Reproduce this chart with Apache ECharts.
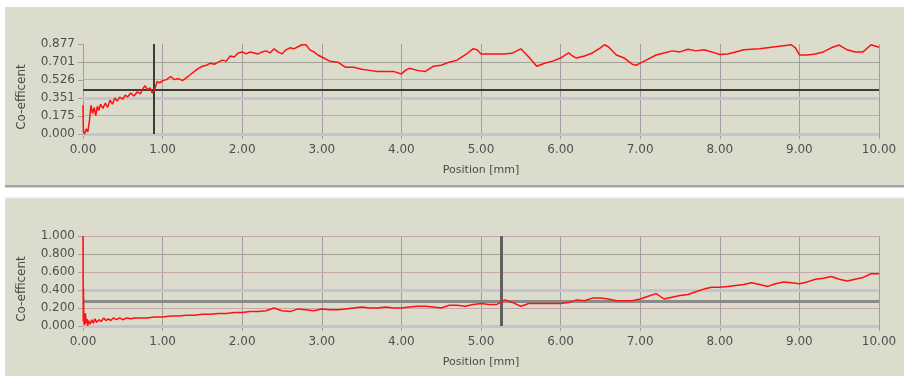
<!DOCTYPE html>
<html>
<head>
<meta charset="utf-8">
<script src="https://cdn.jsdelivr.net/npm/echarts@6/dist/echarts.min.js"></script>
<style>html,body{margin:0;padding:0;background:#fff;}#c{width:904px;height:376px;}</style>
</head>
<body>
<div id="c"></div>
<script>
// ---- data ----
const xTickLabels = ['0.00','1.00','2.00','3.00','4.00','5.00','6.00','7.00','8.00','9.00','10.00'];
const yTicksTop = [0, 0.1754, 0.3508, 0.5262, 0.7016, 0.877];
const yTickLabelsTop = ['0.000','0.175','0.351','0.526','0.701','0.877'];
const yTicksBottom = [0, 0.2, 0.4, 0.6, 0.8, 1.0];
const yTickLabelsBottom = ['0.000','0.200','0.400','0.600','0.800','1.000'];

const posTop = [0.00,0.005,0.02,0.04,0.06,0.08,0.10,0.12,0.14,0.16,0.18,0.20,0.22,0.25,0.28,0.31,0.34,0.37,0.40,0.43,0.46,0.50,0.53,0.56,0.60,0.64,0.68,0.72,0.75,0.78,0.81,0.84,0.87,0.90,0.93,0.97,
1.00,1.05,1.10,1.15,1.20,1.25,1.30,1.35,1.40,1.45,1.50,1.55,1.60,1.65,1.70,1.75,1.80,1.85,1.90,1.95,
2.00,2.05,2.10,2.15,2.20,2.25,2.30,2.35,2.40,2.45,2.50,2.55,2.60,2.65,2.70,2.75,2.80,2.85,2.90,2.95,
3.00,3.10,3.20,3.30,3.40,3.50,3.60,3.70,3.80,3.90,4.00,4.05,4.10,4.20,4.30,4.40,4.50,4.60,4.70,4.80,4.90,4.95,
5.00,5.10,5.20,5.30,5.40,5.50,5.60,5.70,5.80,5.90,6.00,6.10,6.15,6.20,6.30,6.40,6.50,6.55,6.60,6.70,6.80,6.90,6.95,
7.00,7.10,7.20,7.30,7.40,7.50,7.60,7.70,7.80,7.90,8.00,8.10,8.20,8.30,8.40,8.50,8.60,8.70,8.80,8.90,8.95,
9.00,9.10,9.20,9.30,9.40,9.50,9.60,9.70,9.80,9.90,10.00];
const cofTop = [0.28,0.02,0.00,0.05,0.02,0.12,0.28,0.20,0.26,0.18,0.27,0.23,0.29,0.25,0.30,0.26,0.33,0.29,0.35,0.32,0.36,0.34,0.38,0.36,0.40,0.37,0.41,0.39,0.44,0.47,0.43,0.45,0.40,0.43,0.51,0.50,
0.52,0.53,0.56,0.53,0.54,0.52,0.55,0.58,0.61,0.64,0.66,0.67,0.69,0.68,0.70,0.72,0.71,0.76,0.75,0.79,
0.80,0.78,0.80,0.79,0.78,0.80,0.81,0.79,0.83,0.80,0.78,0.82,0.84,0.83,0.85,0.87,0.87,0.82,0.80,0.77,
0.75,0.71,0.70,0.65,0.65,0.63,0.62,0.61,0.61,0.61,0.585,0.62,0.64,0.62,0.61,0.66,0.67,0.70,0.72,0.77,0.83,0.82,
0.78,0.78,0.78,0.78,0.79,0.83,0.75,0.66,0.69,0.71,0.74,0.79,0.76,0.74,0.76,0.79,0.84,0.87,0.85,0.77,0.74,0.68,0.67,
0.69,0.73,0.77,0.79,0.81,0.80,0.825,0.81,0.82,0.80,0.775,0.78,0.80,0.82,0.825,0.83,0.84,0.85,0.86,0.87,0.84,
0.77,0.77,0.78,0.80,0.84,0.867,0.82,0.80,0.80,0.87,0.845];

const posBottom = [0.00,0.003,0.006,0.01,0.02,0.03,0.04,0.05,0.06,0.07,0.09,0.11,0.13,0.15,0.17,0.20,0.23,0.26,0.29,0.32,0.35,0.38,0.42,0.46,0.50,0.55,0.60,0.65,0.70,0.80,0.90,
1.00,1.10,1.20,1.30,1.40,1.50,1.60,1.70,1.80,1.90,2.00,2.10,2.20,2.30,2.40,2.50,2.60,2.70,2.80,2.90,
3.00,3.10,3.20,3.30,3.40,3.50,3.60,3.70,3.80,3.90,4.00,4.10,4.20,4.30,4.40,4.50,4.60,4.70,4.80,4.90,
5.00,5.10,5.20,5.30,5.40,5.50,5.60,5.70,5.80,5.90,6.00,6.10,6.20,6.30,6.40,6.50,6.60,6.70,6.80,6.90,
7.00,7.10,7.20,7.30,7.40,7.50,7.60,7.70,7.80,7.90,8.00,8.10,8.20,8.30,8.40,8.50,8.60,8.70,8.80,8.90,
9.00,9.10,9.20,9.30,9.40,9.50,9.60,9.70,9.80,9.90,10.00];
const cofBottom = [1.00,0.05,0.42,0.10,0.01,0.14,0.03,0.08,0.00,0.06,0.02,0.07,0.03,0.08,0.04,0.07,0.05,0.09,0.06,0.08,0.06,0.09,0.07,0.09,0.07,0.09,0.08,0.09,0.09,0.09,0.10,
0.10,0.11,0.11,0.12,0.12,0.13,0.13,0.14,0.14,0.15,0.15,0.16,0.16,0.17,0.20,0.17,0.16,0.19,0.18,0.17,
0.19,0.18,0.18,0.19,0.20,0.21,0.20,0.20,0.21,0.20,0.20,0.21,0.22,0.22,0.21,0.20,0.23,0.23,0.22,0.24,
0.25,0.24,0.24,0.29,0.26,0.22,0.25,0.25,0.25,0.25,0.25,0.26,0.29,0.28,0.31,0.31,0.30,0.28,0.28,0.28,
0.30,0.33,0.36,0.30,0.32,0.34,0.35,0.38,0.41,0.43,0.43,0.44,0.45,0.46,0.48,0.46,0.44,0.47,0.49,0.48,
0.47,0.49,0.52,0.53,0.55,0.52,0.50,0.52,0.54,0.58,0.58];

// marker lines
const cursorTop = {x: 0.89, y: 0.43};
const cursorBottom = {x: 5.26, y: 0.265};

// ---- styles ----
const BG = '#dcdccc';
const PINK = '#c9a6ad';
const LAV = '#c3c3d2';
const DGREY = '#a2a298';
const VGRID = '#a59ba3';
const gridStyleByIndex = [
  {color: LAV, width: 3},
  {color: PINK, width: 1},
  {color: LAV, width: 3},
  {color: PINK, width: 1},
  {color: DGREY, width: 1},
  {color: PINK, width: 1}
];
const FONT = 'DejaVu Sans';

function zip(a, b){ return a.map((v,i)=>[v,b[i]]); }

function xAxisFor(gi){
  return {
    type:'value', gridIndex: gi, min:0, max:10, interval:1,
    name:'Position [mm]', nameLocation:'middle', nameGap:31,
    nameTextStyle:{fontFamily:FONT, fontSize:11, color:'#4a4a4a'},
    axisLine:{show:false},
    axisTick:{show:true, length:5, lineStyle:{color:VGRID}},
    axisLabel:{fontFamily:FONT, fontSize:12, color:'#505050', margin:10,
      formatter:(v)=>xTickLabels[Math.round(v)]},
    splitLine:{show:true, lineStyle:{color:VGRID, width:1}}
  };
}
function yAxisFor(gi, max, interval, labels){
  return {
    type:'value', gridIndex: gi, min:0, max:max, interval:interval,
    name:'Co-efficent', nameLocation:'middle', nameGap:55,
    nameTextStyle:{fontFamily:FONT, fontSize:12, color:'#4a4a4a', padding:[0,16,0,0]},
    axisLine:{show:false},
    axisTick:{show:true, length:5, lineStyle:{color:'#a8a0a0'}},
    axisLabel:{fontFamily:FONT, fontSize:12, color:'#505050', margin:8,
      formatter:(v)=>labels[Math.round(v/interval)]},
    splitLine:{show:false}
  };
}
function gridLines(ticks){
  return ticks.map((t,i)=>({yAxis:t, lineStyle:{color:gridStyleByIndex[i].color, width:gridStyleByIndex[i].width, type:'solid'}}));
}
function helperSeries(gi, ticks){
  return {
    type:'line', xAxisIndex:gi, yAxisIndex:gi, data:[], silent:true, z:1,
    markLine:{silent:true, symbol:'none', animation:false, z:1, label:{show:false},
      data: gridLines(ticks)}
  };
}
function cursorSeries(gi, c, vw, vcol, hw, hcol){
  return {
    type:'line', xAxisIndex:gi, yAxisIndex:gi, data:[], silent:true, z:2,
    markLine:{silent:true, symbol:'none', animation:false, z:2, label:{show:false},
      data:[
        {yAxis:c.y, lineStyle:{color:hcol, width:hw, type:'solid'}},
        {xAxis:c.x, lineStyle:{color:vcol, width:vw, type:'solid'}}
      ]}
  };
}

const chart = echarts.init(document.getElementById('c'), null, {renderer:'canvas'});
chart.setOption({
  animation:false,
  backgroundColor:'#ffffff',
  graphic:[
    {type:'rect', z:-10, shape:{x:5, y:7, width:899, height:178}, style:{fill:BG}},
    {type:'rect', z:-10, shape:{x:5, y:185, width:899, height:2.5}, style:{fill:'#a4a4a0'}},
    {type:'rect', z:-10, shape:{x:5, y:197, width:899, height:1.5}, style:{fill:'#ececE4'}},
    {type:'rect', z:-10, shape:{x:5, y:198.5, width:899, height:178}, style:{fill:BG}}
  ],
  grid:[
    {left:83, right:25, top:44, height:90},
    {left:83, right:25, top:236, height:90}
  ],
  xAxis:[xAxisFor(0), xAxisFor(1)],
  yAxis:[
    yAxisFor(0, 0.877, 0.1754, yTickLabelsTop),
    yAxisFor(1, 1.0, 0.2, yTickLabelsBottom)
  ],
  series:[
    helperSeries(0, yTicksTop),
    helperSeries(1, yTicksBottom),
    cursorSeries(0, cursorTop, 2, '#3c3c3c', 2, '#3c3c3c'),
    cursorSeries(1, cursorBottom, 3, '#606060', 3, '#8a8a8a'),
    {type:'line', xAxisIndex:0, yAxisIndex:0, data:zip(posTop, cofTop), showSymbol:false, z:10,
      lineStyle:{color:'#ff1010', width:1.5}},
    {type:'line', xAxisIndex:1, yAxisIndex:1, data:zip(posBottom, cofBottom), showSymbol:false, z:10,
      lineStyle:{color:'#ff1010', width:1.5}}
  ]
});
</script>
</body>
</html>
